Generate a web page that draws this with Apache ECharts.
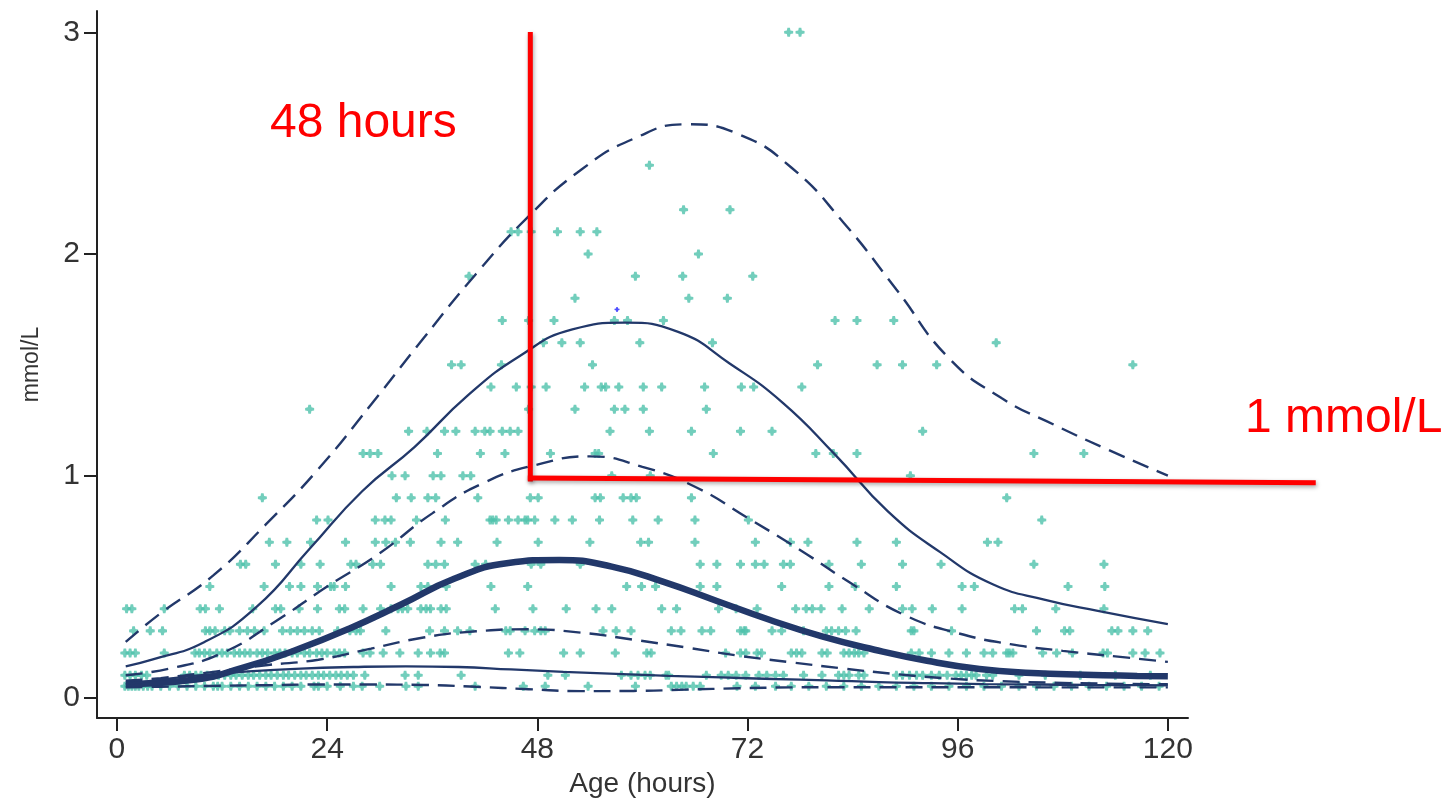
<!DOCTYPE html>
<html><head><meta charset="utf-8">
<script src="https://cdn.jsdelivr.net/npm/echarts@6/dist/echarts.min.js"></script>
<style>html,body{margin:0;padding:0;background:#fff}#c{width:1445px;height:803px}</style>
</head><body><div id="c"></div>
<script>
// ---- tick labels ----
const xTicks = [0, 24, 48, 72, 96, 120];
const yTicks = [0, 1, 2, 3];

// ---- scatter observations: hours at each measured level (mmol/L) ----
const lv3_0 = [76.7, 78];
const lv2_4 = [60.8];
const lv2_2 = [64.7, 70];
const lv2_1 = [45, 45.8, 47.3, 50.3, 52.9, 54.8];
const lv2_0 = [53.8, 66.4];
const lv1_9 = [40.2, 59.2, 64.6, 72.6];
const lv1_8 = [52.3, 65.3, 69.7];
const lv1_7 = [44, 47, 49.9, 56.8, 58.3, 62.4, 82, 84.5, 88.7];
const lv1_6 = [48.7, 50.8, 52.9, 59.7, 68, 100.4];
const lv1_5 = [38.2, 39.3, 43.9, 54.3, 80, 86.8, 89.7, 93.6, 116];
const lv1_4 = [42.7, 45.6, 47.3, 49, 53.4, 55.3, 55.8, 57.3, 60.1, 62.2, 67.1, 71.3, 72.7, 78.2];
const lv1_3 = [22, 47, 52.3, 56.8, 58, 60.1, 67.3];
const lv1_2 = [33.3, 35.4, 37.4, 38.7, 40.9, 42, 42.6, 44, 44.9, 45.8, 56.3, 60.8, 65.6, 71.2, 74.8, 92];
const lv1_1 = [28.1, 28.9, 29.8, 36.6, 41.5, 44.3, 49.5, 54.6, 55, 68.1, 79.8, 81.8, 84.5, 104.7, 110.4];
const lv1_0 = [31.4, 32.9, 36.1, 37, 39.5, 40.4, 56.5, 60.9, 90.6];
const lv0_9 = [16.6, 31.9, 33.6, 35.5, 36.4, 41.2, 47.2, 48.1, 54.6, 55.2, 57.8, 58.7, 59.3, 65.6, 101.6];
const lv0_8 = [22.8, 24.1, 29.5, 30.6, 31.3, 34.2, 37.5, 42.6, 42.9, 43.3, 44.7, 45.8, 46.6, 46.9, 47.7, 50, 52, 55.1, 58.9, 61.8, 66, 72.1, 105.6];
const lv0_7 = [17.4, 19.4, 22.1, 26.1, 29.5, 30.7, 31.8, 33.5, 37, 38.9, 43.4, 48.1, 54, 59.8, 60.7, 66, 72.9, 76.9, 78.9, 84.5, 89, 99.4, 100.6];
const lv0_6 = [14.1, 14.7, 18.1, 21, 23.2, 26.7, 27.3, 29.2, 30.1, 35.5, 36.4, 37.4, 40.9, 42.1, 47.3, 48.4, 52.9, 66.6, 68.5, 71.2, 72.9, 73.9, 76.1, 76.9, 81.3, 85, 89.7, 94.1, 104.7, 112.7];
const lv0_5 = [10.6, 16.8, 19.7, 21, 22.9, 24.4, 24.8, 26.1, 31.3, 34.7, 35.5, 37.6, 42.7, 46.9, 58.2, 59.9, 61.5, 66.6, 68.5, 75.9, 81.3, 84.3, 89, 96.5, 97.9, 108.6, 112.8];
const lv0_4 = [1.1, 1.7, 5.4, 9.5, 10.1, 11.7, 15.5, 18.1, 18.7, 20.8, 22.9, 25.4, 26, 28.1, 30.1, 31.3, 32.1, 32.6, 33.2, 34.7, 35.3, 35.8, 37, 37.6, 43.2, 47.5, 51.3, 54.7, 56.5, 62.2, 63.9, 68.7, 70.7, 73.1, 77.5, 78.7, 79.4, 80.4, 82.8, 85.9, 89.7, 90.8, 93.1, 96.5, 102.5, 103.4, 107.2, 112.7];
const lv0_3 = [1.9, 3.8, 5.2, 10.1, 10.6, 11.2, 12.3, 12.9, 14, 14.9, 15.7, 16.8, 18.9, 19.8, 20.6, 21.4, 22.3, 23.1, 25.2, 26.6, 27.3, 27.8, 30.7, 35.7, 37.4, 38.9, 40.3, 44.4, 44.9, 46.6, 47.7, 48.4, 48.9, 55.5, 57, 58.7, 63.3, 64.4, 66.8, 67.8, 71.2, 71.6, 71.8, 74.8, 75.9, 78.4, 81, 81.6, 82.4, 83.2, 84.4, 90.7, 91, 95.3, 105, 108.2, 108.8, 113.6, 114.3, 116, 117.7];
const lv0_2 = [0.9, 1.5, 2.1, 5.4, 8.9, 9.4, 10, 10.6, 11.4, 12, 12.6, 13.4, 14, 14.6, 15.2, 16, 16.6, 17.2, 18, 18.6, 19.2, 20, 20.6, 21.4, 22, 22.8, 23.4, 24, 24.8, 25.4, 26, 28.1, 28.9, 30.4, 32.3, 34.4, 35.8, 36.9, 37.4, 44.7, 46, 51, 52.9, 56.9, 60.5, 61, 69.5, 71.2, 71.8, 73.1, 73.6, 77, 77.6, 78.2, 80.5, 81.1, 83, 83.6, 84.2, 84.7, 85.3, 90.7, 91.6, 93, 95, 97, 99, 100, 101.6, 101.9, 102.3, 105.7, 107.3, 109.1, 112.6, 113.1, 116, 117.4, 119.1];
const lv0_1 = [0.9, 1.5, 2.1, 2.8, 3.4, 7.7, 8.3, 9, 9.6, 10.3, 11, 11.6, 12.3, 13, 13.6, 14.3, 15, 15.6, 16.3, 17, 17.6, 18.3, 19, 19.6, 20.3, 21, 21.6, 22.3, 23, 23.6, 24.3, 25, 25.6, 26.3, 27, 28.3, 32.9, 34.4, 39.3, 49.2, 51.2, 57.6, 58.7, 59.5, 60.3, 60.9, 62.7, 63, 67.3, 69, 69.8, 70.7, 71.8, 73.3, 74.2, 75.2, 76.1, 78.4, 80.5, 82.4, 83, 83.6, 84.7, 85.3, 89, 89.7, 90.5, 91.3, 92, 93, 93.9, 94.8, 95.8, 96.4, 97, 97.6, 98.1, 99.3, 100, 103, 106, 110, 114, 118];
const lv0_05 = [0.9, 1.3, 1.7, 2.1, 2.5, 3, 3.5, 4, 5, 6, 7, 8, 9, 10, 11, 11.5, 12, 13, 14, 15, 16, 17, 18, 19, 20, 21, 22.5, 23, 24, 25.5, 27, 28, 30, 33, 34.4, 40.9, 46.4, 48.9, 53.8, 59.2, 63.3, 63.9, 64.5, 65, 65.8, 66.6, 70.8, 72.9, 75.2, 77, 79, 81, 83, 85, 87, 89, 91, 93, 95, 97, 99, 101, 103, 105, 107, 109, 111, 113, 115, 117, 119];
const blueDot = [[57.1, 1.75]];

const rows = [
  [3.0, lv3_0], [2.4, lv2_4], [2.2, lv2_2], [2.1, lv2_1], [2.0, lv2_0], [1.9, lv1_9],
  [1.8, lv1_8], [1.7, lv1_7], [1.6, lv1_6], [1.5, lv1_5], [1.4, lv1_4], [1.3, lv1_3],
  [1.2, lv1_2], [1.1, lv1_1], [1.0, lv1_0], [0.9, lv0_9], [0.8, lv0_8], [0.7, lv0_7],
  [0.6, lv0_6], [0.5, lv0_5], [0.4, lv0_4], [0.3, lv0_3], [0.2, lv0_2], [0.1, lv0_1], [0.05, lv0_05]
];
const points = [];
rows.forEach(([v, hs]) => hs.forEach(h => points.push([h, v])));

// ---- percentile curves: hours read and values read (mmol/L) ----
const p975Hours = [1, 5, 11, 17, 23, 29, 35, 41, 47, 53, 59, 65, 71, 77, 83, 89, 95, 101, 107, 113, 120];
const p975      = [0.25, 0.38, 0.55, 0.78, 1.03, 1.32, 1.62, 1.91, 2.17, 2.38, 2.52, 2.585, 2.54, 2.39, 2.14, 1.84, 1.53, 1.35, 1.23, 1.12, 1.00];
const p90Hours  = [1, 4, 10, 16, 22, 28, 34, 40, 46, 52, 58, 64, 70, 76, 82, 88, 94, 100, 106, 112, 120];
const p90       = [0.14, 0.17, 0.25, 0.41, 0.67, 0.93, 1.13, 1.36, 1.54, 1.66, 1.69, 1.65, 1.505, 1.33, 1.095, 0.84, 0.655, 0.51, 0.44, 0.39, 0.33];
const p75Hours  = [1, 6, 12, 18, 24, 30, 36, 42, 48, 54, 60, 66, 72, 78, 84, 90, 96, 102, 108, 114, 120];
const p75       = [0.10, 0.13, 0.20, 0.34, 0.50, 0.65, 0.83, 0.97, 1.05, 1.087, 1.04, 0.95, 0.81, 0.665, 0.51, 0.37, 0.29, 0.24, 0.21, 0.185, 0.16];
const p50Hours  = [1, 8.5, 14.5, 20.5, 26.5, 32.5, 38.5, 44.5, 50.5, 56.5, 62.5, 68.5, 74.5, 80.5, 86.5, 92.5, 98.5, 104.5, 110.5, 116.5, 120];
const p50       = [0.06, 0.078, 0.135, 0.215, 0.31, 0.42, 0.535, 0.605, 0.62, 0.59, 0.52, 0.435, 0.35, 0.275, 0.215, 0.165, 0.128, 0.11, 0.102, 0.097, 0.095];
const p25Hours  = [1, 5, 11, 17, 23, 29, 35, 41, 47, 53, 59, 65, 71, 77, 83, 89, 95, 101, 107, 113, 120];
const p25       = [0.075, 0.087, 0.115, 0.145, 0.17, 0.22, 0.27, 0.298, 0.307, 0.292, 0.26, 0.225, 0.188, 0.158, 0.13, 0.105, 0.085, 0.073, 0.066, 0.062, 0.059];
const p10Hours  = [1, 9, 15, 21, 27, 33, 39, 45, 51, 57, 63, 69, 75, 81, 87, 93, 99, 105, 111, 117, 120];
const p10       = [0.06, 0.098, 0.117, 0.13, 0.137, 0.14, 0.137, 0.126, 0.115, 0.106, 0.097, 0.09, 0.083, 0.077, 0.069, 0.064, 0.06, 0.058, 0.056, 0.055, 0.054];
const p2_5Hours = [1, 5, 11, 17, 23, 29, 35, 41, 47, 53, 59, 65, 71, 77, 83, 89, 95, 101, 107, 113, 120];
const p2_5      = [0.045, 0.048, 0.052, 0.055, 0.058, 0.058, 0.056, 0.048, 0.037, 0.028, 0.029, 0.035, 0.041, 0.045, 0.046, 0.046, 0.046, 0.046, 0.045, 0.045, 0.045];

// ---- red annotation (hours, mmol/L) ----
const annotVertical = [[47.2, 2.99], [47.2, 0.985]];
const annotHorizontal = [[47.2, 0.99], [136.6, 0.968]];
const annotTexts = [
  { text: '48 hours', left: 270, top: 100 },
  { text: '1 mmol/L', left: 1245, top: 395 }
];

const NAVY = '#22386a';
const TEAL = '#4fc2ab';
const FONT = 'Liberation Sans';
const MARK = 'path://M3.6,0 H6.4 L7,3 L10,3.6 V6.4 L7,7 L6.4,10 H3.6 L3,7 L0,6.4 V3.6 L3,3 Z';

function curve(hours, ys, width, dashed) {
  return {
    type: 'line', data: hours.map((h, i) => [h, ys[i]]), smooth: 0.5, symbol: 'none', z: 3,
    lineStyle: { color: NAVY, width: width, type: dashed ? [17, 9] : 'solid', cap: 'butt' },
    silent: true, animation: false
  };
}

const chart = echarts.init(document.getElementById('c'), null, { renderer: 'canvas' });
chart.setOption({
  animation: false,
  backgroundColor: '#ffffff',
  grid: { left: 97, top: 11, width: 1091, height: 707, containLabel: false },
  xAxis: {
    type: 'value', min: -2.28, max: 122.3,
    name: 'Age (hours)', nameLocation: 'middle', nameGap: 52,
    nameTextStyle: { fontFamily: FONT, fontSize: 28, color: '#333' },
    axisLine: { show: true, onZero: false, lineStyle: { color: '#222', width: 2 } },
    axisTick: { show: true, length: 13, customValues: xTicks, lineStyle: { color: '#222', width: 2 } },
    axisLabel: { customValues: xTicks, fontFamily: FONT, fontSize: 30, color: '#333', margin: 17 },
    splitLine: { show: false }
  },
  yAxis: {
    type: 'value', min: -0.093, max: 3.096,
    name: 'mmol/L', nameLocation: 'middle', nameGap: 54, nameRotate: 90,
    nameTextStyle: { fontFamily: FONT, fontSize: 23, color: '#333' },
    axisLine: { show: true, onZero: false, lineStyle: { color: '#222', width: 2 } },
    axisTick: { show: true, length: 13, customValues: yTicks, lineStyle: { color: '#222', width: 2 } },
    axisLabel: { customValues: yTicks, fontFamily: FONT, fontSize: 30, color: '#333', margin: 17 },
    splitLine: { show: false }
  },
  series: [
    { type: 'scatter', data: points, symbol: MARK, symbolSize: 9,
      itemStyle: { color: TEAL }, z: 2, silent: true, animation: false },
    { type: 'scatter', data: blueDot, symbol: MARK, symbolSize: 5,
      itemStyle: { color: '#2020ff' }, z: 2, silent: true, animation: false },
    curve(p975Hours, p975, 2.4, true),
    curve(p90Hours, p90, 2.3, false),
    curve(p75Hours, p75, 2.4, true),
    curve(p50Hours, p50, 6.5, false),
    curve(p25Hours, p25, 2.4, true),
    curve(p10Hours, p10, 2.3, false),
    curve(p2_5Hours, p2_5, 2.4, true)
  ]
});

// red annotation lines placed through the axes' own scales (they run past the plot on the right)
function px(p) { return chart.convertToPixel({ gridIndex: 0 }, p); }
const redStyle = { stroke: '#ff0000', lineWidth: 5, lineCap: 'square', fill: null,
  shadowColor: 'rgba(0,0,0,0.35)', shadowBlur: 4, shadowOffsetX: 1, shadowOffsetY: 2 };
chart.setOption({
  graphic: [
    { type: 'polyline', z: 6, silent: true, shape: { points: annotVertical.map(px) }, style: redStyle },
    { type: 'polyline', z: 6, silent: true, shape: { points: annotHorizontal.map(px) }, style: redStyle }
  ].concat(annotTexts.map(t => ({ type: 'text', left: t.left, top: t.top, z: 10,
    style: { text: t.text, fill: '#ff0000', fontFamily: FONT, fontSize: 48 } })))
});
</script>
</body></html>
